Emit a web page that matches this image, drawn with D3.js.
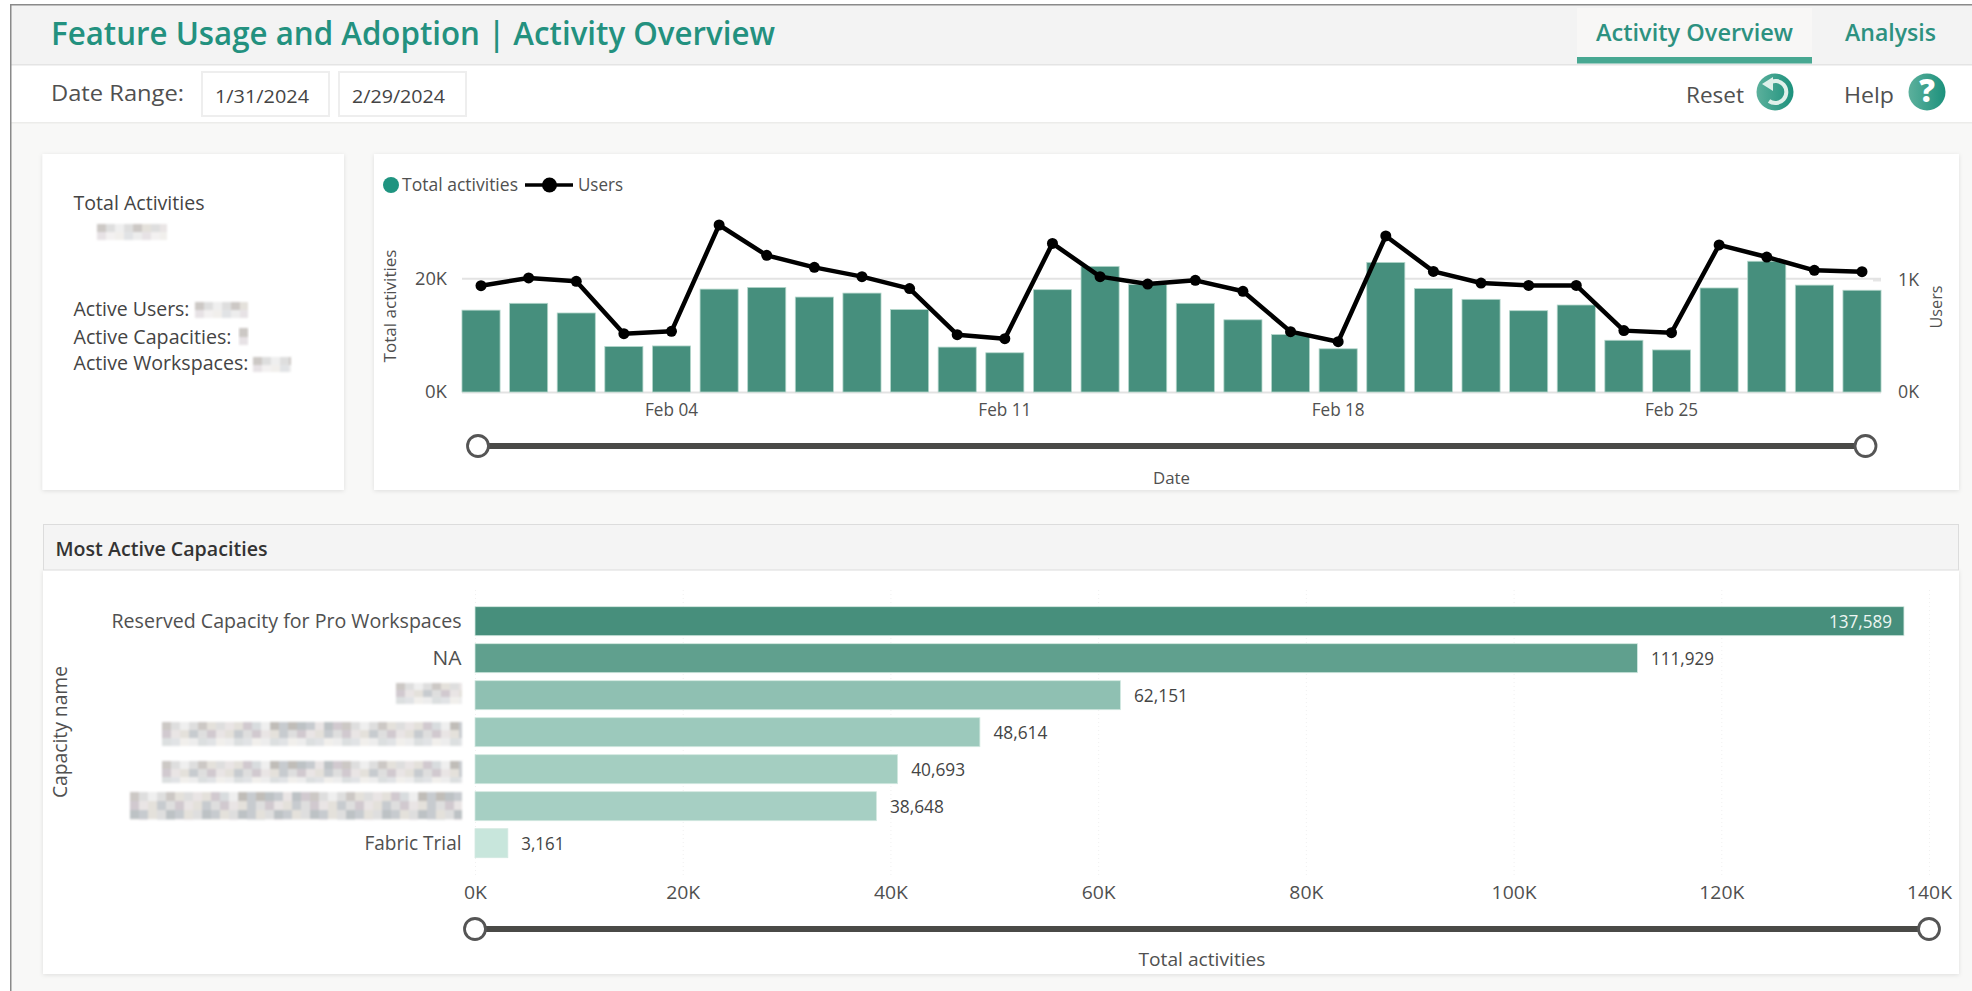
<!DOCTYPE html>
<html><head><meta charset="utf-8">
<script src="https://cdn.jsdelivr.net/npm/d3@7/dist/d3.min.js"></script>
<style>html,body{margin:0;padding:0;background:#fff;overflow:hidden}svg{display:block}text{font-family:"Open Sans","Noto Sans",sans-serif}</style>
</head><body><svg id="c" width="1972" height="991"></svg>
<script>
// ---- data ----
const days = ["2024-01-31","2024-02-01","2024-02-02","2024-02-03","2024-02-04","2024-02-05","2024-02-06","2024-02-07","2024-02-08","2024-02-09","2024-02-10","2024-02-11","2024-02-12","2024-02-13","2024-02-14","2024-02-15","2024-02-16","2024-02-17","2024-02-18","2024-02-19","2024-02-20","2024-02-21","2024-02-22","2024-02-23","2024-02-24","2024-02-25","2024-02-26","2024-02-27","2024-02-28","2024-02-29"];
const totalActivities = [14400,15600,13900,8000,8100,18100,18400,16700,17400,14500,7900,6900,18000,22100,18900,15600,12700,10100,7600,22800,18200,16300,14300,15300,9100,7400,18300,23000,18800,17900];
const users = [949,1018,988,521,542,1491,1220,1113,1030,923,512,476,1327,1030,964,997,899,539,449,1393,1077,973,952,952,548,530,1313,1205,1086,1074];
const dateTicks = ["2024-02-04","2024-02-11","2024-02-18","2024-02-25"];
const activityTicks = [0,20000];
const userTicks = [0,1000];
const capacities = ["Reserved Capacity for Pro Workspaces","NA","Shared","P1 capacity A","P2 capacity B","P1 capacity C","Fabric Trial"];
const hiddenCapacities = ["Shared","P1 capacity A","P2 capacity B","P1 capacity C"];
const capacityActivities = [137589,111929,62151,48614,40693,38648,3161];
const capacityTicks = [0,20000,40000,60000,80000,100000,120000,140000];

// ---- helpers ----
const svg = d3.select("#c");
const GREY="#505050", TEAL="#23917f", DARK="#3b3b3b";
function T(s,x,y,size,w,o={}){
  const t=svg.append("text").attr("x",x).attr("y",y).attr("dy","0.35em").attr("font-size",size)
    .attr("fill",o.fill||GREY).attr("text-anchor",o.anchor||"start").attr("font-weight",o.weight||400).text(s);
  if(w) t.attr("textLength",w).attr("lengthAdjust","spacingAndGlyphs");
  if(o.rot) t.attr("transform",`rotate(-90 ${x} ${y})`);
  return t;
}
function card(x,y,w,h){
  svg.append("rect").attr("x",x).attr("y",y).attr("width",w).attr("height",h).attr("fill","#fff").attr("filter","url(#sh)");
}
const tones=["#c9c5c2","#dcdcdc","#b9bfc2","#e8e4e4","#cfc6cc","#eeeeee","#bdb9b4","#d6dadc","#e3dfd9","#c4c8cc"];
const toneOrder=[0,3,6,1,8,2,5,4,9,1,7,3,0,5,2,8,6,4,1,9];
function mosaic(x,y,w,h,cw,ch){
  const cells=[];const nx=Math.ceil(w/cw),ny=Math.ceil(h/ch);
  for(let j=0;j<ny;j++)for(let i=0;i<nx;i++)cells.push({i,j,c:tones[toneOrder[(i*3+j*7+i*j)%toneOrder.length]]});
  svg.append("g").attr("filter","url(#soft)").selectAll("rect").data(cells).join("rect")
    .attr("x",d=>x+d.i*cw).attr("y",d=>y+d.j*ch)
    .attr("width",d=>Math.min(cw,w-d.i*cw)).attr("height",d=>Math.min(ch,h-d.j*ch))
    .attr("fill",d=>d.c).attr("opacity",d=>d.j===ny-1&&ny>1?0.5:0.95);
}
function slider(x0,x1,y){
  svg.append("line").attr("x1",x0).attr("x2",x1).attr("y1",y).attr("y2",y).attr("stroke","#4a4a47").attr("stroke-width",6);
  [x0,x1].forEach(x=>svg.append("circle").attr("cx",x).attr("cy",y).attr("r",10.5).attr("fill","#fff").attr("stroke","#555").attr("stroke-width",2.8));
}

// ---- defs ----
const defs=svg.append("defs");
const sh=defs.append("filter").attr("id","sh").attr("x","-3%").attr("y","-3%").attr("width","106%").attr("height","106%");
sh.append("feDropShadow").attr("dx",0).attr("dy",1).attr("stdDeviation",2).attr("flood-color","#000").attr("flood-opacity",0.1);
defs.append("filter").attr("id","soft").append("feGaussianBlur").attr("stdDeviation",1.1);
const g=defs.append("linearGradient").attr("id","ic");
g.append("stop").attr("offset","0").attr("stop-color","#5cb09c");
g.append("stop").attr("offset","1").attr("stop-color","#1c917c");

// ---- page frame ----
svg.append("rect").attr("x",10).attr("y",122).attr("width",1962).attr("height",869).attr("fill","#f8f8f7");
svg.append("rect").attr("x",10).attr("y",5).attr("width",1962).attr("height",59).attr("fill","#f3f3f3");
svg.append("rect").attr("x",10).attr("y",64).attr("width",1962).attr("height",1.5).attr("fill","#e4e4e4");
svg.append("rect").attr("x",10).attr("y",122).attr("width",1962).attr("height",1.5).attr("fill","#ececea");
svg.append("rect").attr("x",10).attr("y",4).attr("width",1962).attr("height",1.5).attr("fill","#8a8a8a");
svg.append("rect").attr("x",10).attr("y",4).attr("width",1.5).attr("height",987).attr("fill","#8a8a8a");

// ---- header ----
T("Feature Usage and Adoption | Activity Overview",51,33,33,724,{fill:TEAL,weight:600});
svg.append("rect").attr("x",1577).attr("y",8).attr("width",235).attr("height",50).attr("fill","#f8f7f6");
svg.append("rect").attr("x",1577).attr("y",57).attr("width",235).attr("height",6.5).attr("fill","#48a892");
T("Activity Overview",1596,33,22.5,197,{fill:"#2d9180",weight:600});
T("Analysis",1845,33,22.5,91,{fill:"#2d9180",weight:600});
T("Date Range:",51,93,22,133);
[[202,"1/31/2024",215,94],[339,"2/29/2024",352,93]].forEach(([x,s,tx,w])=>{
  svg.append("rect").attr("x",x).attr("y",72).attr("width",127).attr("height",44).attr("fill","#fff").attr("stroke","#eeeeee").attr("stroke-width",2);
  T(s,tx,97,18.5,w,{fill:"#444"});
});
T("Reset",1686,95,22.5,58);
T("Help",1844,95,22.5,50);
svg.append("circle").attr("cx",1775).attr("cy",92).attr("r",18.5).attr("fill","url(#ic)");
svg.append("path").attr("d","M1769 83 A11 11 0 1 1 1769 101").attr("fill","none").attr("stroke","#dff0ea").attr("stroke-width",4);
svg.append("path").attr("d","M1762 84 L1773 77 L1773 91 Z").attr("fill","#dff0ea");
svg.append("circle").attr("cx",1927).attr("cy",92).attr("r",18.5).attr("fill","url(#ic)");
T("?",1927,91,31,0,{fill:"#fff",anchor:"middle",weight:800});

// ---- KPI card ----
card(42.5,154,301.5,336);
T("Total Activities",73.5,203,20.5,131,{fill:"#444"});
mosaic(97,224,70,16,9,8);
T("Active Users:",73.5,309,20.5,116,{fill:"#444"});
mosaic(195,302,53,16,9,8);
T("Active Capacities:",73.5,337,20.5,158,{fill:"#444"});
mosaic(239,328,9,17,9,9);
T("Active Workspaces:",73.5,363,20.5,175,{fill:"#444"});
mosaic(253,357,38,15,9,8);

// ---- combo chart ----
card(374,154,1585,336);
const x=d3.scaleBand().domain(days).range([457.2,1885.8]).paddingInner(0.2).paddingOuter(0.1);
const y=d3.scaleLinear().domain([0,20000]).range([392,278.3]);
const yU=d3.scaleLinear().domain([0,1000]).range([392,280]);
const fmtK=v=>d3.format("d")(v/1000)+"K";
const kW={2:22,3:32,4:45};

// secondary gridline (peeks out at the right end), primary gridline
svg.append("line").attr("x1",1873).attr("x2",1881).attr("y1",yU(1000)).attr("y2",yU(1000)).attr("stroke","#e6e6e6").attr("stroke-width",3);
const gy=svg.append("g").attr("transform","translate(447,0)")
  .call(d3.axisLeft(y).tickValues(activityTicks).tickFormat(fmtK).tickSize(0).tickPadding(0));
gy.select(".domain").remove();
gy.selectAll("text").attr("font-size",18.5).attr("fill",GREY).style("font-family",'"Open Sans"')
  .attr("textLength",function(){return kW[this.textContent.length]}).attr("lengthAdjust","spacingAndGlyphs");
svg.append("g").attr("transform","translate(462,0)")
  .call(d3.axisRight(y).tickValues(activityTicks).tickFormat("").tickSize(1419))
  .call(a=>a.select(".domain").remove())
  .selectAll("line").attr("stroke","#e3e3e3").attr("stroke-width",2);

const bars=days.map((d,i)=>({d,v:totalActivities[i]}));
svg.append("g").selectAll("rect").data(bars).join("rect")
  .attr("x",d=>x(d.d)).attr("width",x.bandwidth())
  .attr("y",d=>y(d.v)).attr("height",d=>y(0)-y(d.v))
  .attr("fill","#468f7d").attr("stroke","#b4d6cb").attr("stroke-width",0.8);

const gx=svg.append("g").attr("transform","translate(0,392)")
  .call(d3.axisBottom(x).tickValues(dateTicks).tickSize(0).tickPadding(0)
    .tickFormat(s=>d3.timeFormat("%b %d")(d3.timeParse("%Y-%m-%d")(s))));
gx.select(".domain").remove();
gx.selectAll("text").attr("y",18).attr("dy","0.35em").attr("font-size",17.5).attr("fill",GREY).style("font-family",'"Open Sans"')
  .attr("textLength",53).attr("lengthAdjust","spacingAndGlyphs");

const pts=days.map((d,i)=>({d,v:users[i]}));
const lineGen=d3.line().x(d=>x(d.d)+x.bandwidth()/2).y(d=>yU(d.v));
svg.append("path").datum(pts).attr("d",lineGen).attr("fill","none").attr("stroke","#000").attr("stroke-width",4.5).attr("stroke-linejoin","round");
svg.append("g").selectAll("circle").data(pts).join("circle")
  .attr("cx",d=>x(d.d)+x.bandwidth()/2).attr("cy",d=>yU(d.v)).attr("r",5.5).attr("fill","#000");

const gr=svg.append("g").attr("transform","translate(1898,0)")
  .call(d3.axisRight(yU).tickValues(userTicks).tickFormat(fmtK).tickSize(0).tickPadding(0));
gr.select(".domain").remove();
gr.selectAll("text").attr("font-size",18.5).attr("fill",GREY).style("font-family",'"Open Sans"')
  .attr("textLength",21).attr("lengthAdjust","spacingAndGlyphs");

T("Total activities",390,306,17,113,{anchor:"middle",rot:true});
T("Users",1936,307,17,43,{anchor:"middle",rot:true});
T("Date",1171.5,478,17,37,{anchor:"middle"});
slider(478,1865.5,446);

// legend
svg.append("circle").attr("cx",391).attr("cy",185).attr("r",8).attr("fill","#1f9480");
T("Total activities",402,185,18,116);
svg.append("line").attr("x1",525).attr("x2",573).attr("y1",185).attr("y2",185).attr("stroke","#000").attr("stroke-width",3.5);
svg.append("circle").attr("cx",549.5).attr("cy",185).attr("r",7.5).attr("fill","#000");
T("Users",578,185,18,45);

// ---- capacities ----
card(43,570,1916,404);
svg.append("rect").attr("x",43.5).attr("y",524.5).attr("width",1915).attr("height",45.5).attr("fill","#f4f4f4").attr("stroke","#dcdcdc");
T("Most Active Capacities",55.5,549,19.5,212,{fill:"#333",weight:600});

const xc=d3.scaleLinear().domain([0,140000]).range([475,1929]);
const yc=d3.scaleBand().domain(capacities).range([602.7,861.7]).paddingInner(0.216).paddingOuter(0.108);
const col=d3.scaleLinear().domain([3161,137589]).range(["#c8e6dc","#478f7c"]);
const capData=capacities.map((c,i)=>({c,v:capacityActivities[i]}));

const gb=svg.append("g").attr("transform","translate(0,875)")
  .call(d3.axisBottom(xc).tickValues(capacityTicks).tickFormat(fmtK).tickSize(-285).tickPadding(0));
gb.select(".domain").remove();
gb.selectAll("line").attr("stroke","#f0f0f0").attr("stroke-width",1).attr("stroke-dasharray","1 3");
const bW={2:23,3:34,4:45};
gb.selectAll("text").attr("y",18).attr("dy","0.35em").attr("font-size",18.5).attr("fill",GREY).style("font-family",'"Open Sans"')
  .attr("textLength",function(){return bW[this.textContent.length]}).attr("lengthAdjust","spacingAndGlyphs");

svg.append("g").selectAll("rect").data(capData).join("rect")
  .attr("x",xc(0)).attr("y",d=>yc(d.c)).attr("height",yc.bandwidth())
  .attr("width",d=>xc(d.v)-xc(0)).attr("fill",d=>col(d.v)).attr("stroke","#d3e9e1").attr("stroke-width",0.8);

const catW={"Reserved Capacity for Pro Workspaces":350,"NA":29,"Fabric Trial":97};
const gl=svg.append("g").attr("transform","translate(461.5,0)")
  .call(d3.axisLeft(yc).tickSize(0).tickPadding(0).tickFormat(c=>hiddenCapacities.includes(c)?"":c));
gl.select(".domain").remove();
gl.selectAll("text").attr("font-size",20.5).attr("fill",GREY).style("font-family",'"Open Sans"')
  .filter(function(){return this.textContent}).attr("textLength",function(){return catW[this.textContent]}).attr("lengthAdjust","spacingAndGlyphs");
mosaic(396,683,66,21,9,7);
mosaic(162,722,300,24,9,8);
mosaic(162,761,300,22,9,8);
mosaic(130,792,332,28,9,9);

const fmtN=d3.format(",");
const lblW=v=>fmtN(v).length==7?63:fmtN(v).length==6?54:43;
svg.append("g").selectAll("text").data(capData).join("text")
  .attr("x",d=>d.v>120000?xc(d.v)-12:xc(d.v)+13.5)
  .attr("y",d=>yc(d.c)+yc.bandwidth()/2).attr("dy","0.35em")
  .attr("text-anchor",d=>d.v>120000?"end":"start")
  .attr("font-size",18).attr("fill",d=>d.v>120000?"#eef6f3":"#444")
  .attr("textLength",d=>lblW(d.v)).attr("lengthAdjust","spacingAndGlyphs")
  .text(d=>fmtN(d.v));

T("Capacity name",60,732,19.5,132,{anchor:"middle",rot:true});
T("Total activities",1202,960,18.5,127,{anchor:"middle"});
slider(475,1929,929);
</script></body></html>
